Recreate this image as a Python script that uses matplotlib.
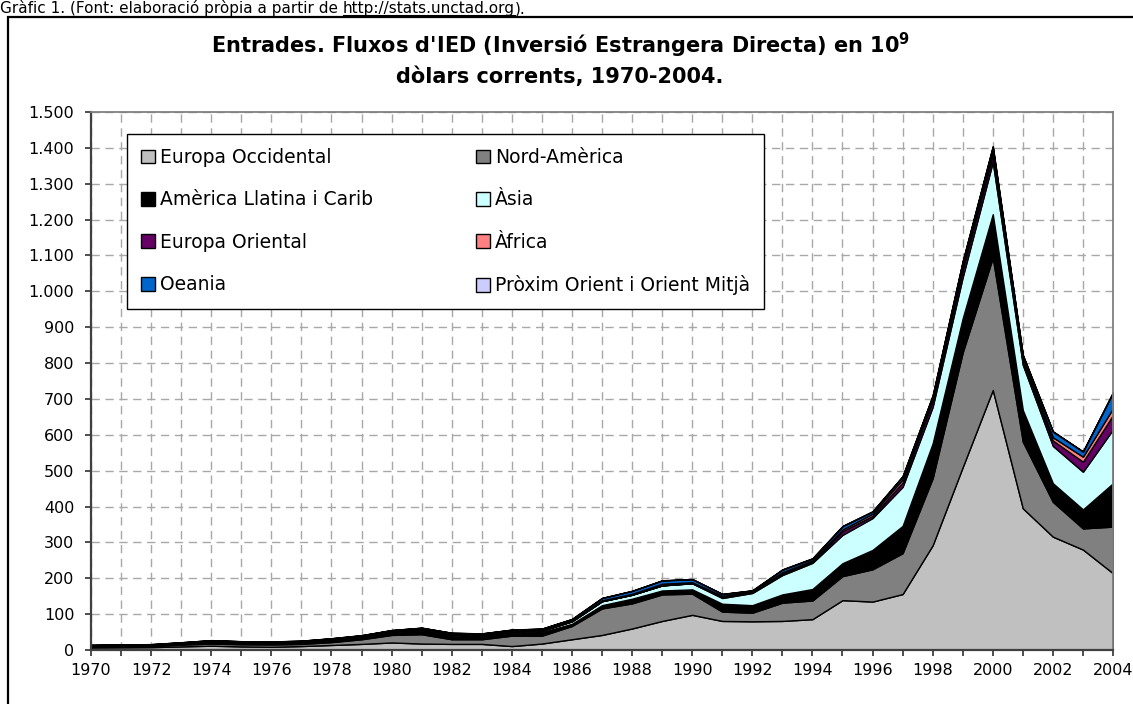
import matplotlib
matplotlib.use("Agg")
import matplotlib.pyplot as plt
from matplotlib.patches import Patch, Rectangle
from matplotlib.lines import Line2D
from matplotlib.ticker import MultipleLocator, FuncFormatter

plt.rcParams['font.family'] = ['DejaVu Sans']

years = list(range(1970, 2005))

# FDI inflows, 10^9 current dollars
europa_occ = [7, 7.5, 8, 10, 12, 10, 9, 11, 14, 17,
              21, 18, 17, 17, 11, 18, 30, 42, 60, 81,
              98, 81, 80, 81, 86, 139, 135, 156, 292, 510,
              725, 395, 316, 280, 214]
nord_america = [3, 3.5, 3.5, 5, 6, 6, 6.5, 6, 8, 13,
                21, 26, 13, 13, 29, 22, 37, 74, 70, 74,
                59, 26, 24, 51, 52, 67, 90, 114, 187, 320,
                369, 186, 97, 59, 130]
america_llatina = [2, 2, 2, 3, 5, 4, 4, 4, 5, 5,
                   8, 10, 10, 9, 8, 10, 6, 9, 13, 11,
                   12, 22, 21, 23, 32, 36, 54, 76, 97, 95,
                   121, 88, 52, 53, 121]
asia = [0.8, 0.8, 1, 1.5, 2, 2, 2, 2.5, 3, 3,
        3, 4, 4, 3, 4, 4, 7, 11, 11, 14,
        17, 16, 34, 54, 73, 79, 89, 109, 102, 115,
        146, 126, 104, 105, 150]
europa_oriental = [0, 0, 0, 0, 0, 0, 0, 0, 0, 0,
                   0, 0, 0, 0, 0, 0, 0, 0, 0, 0.3,
                   0.5, 2.5, 2, 4, 3, 10, 6, 12, 18, 22,
                   20, 8, 15, 28, 40]
africa = [0.6, 0.7, 0.8, 0.9, 1.1, 1.2, 1.0, 1.2, 1.3, 1.5,
          0.4, 1.5, 1.8, 1.5, 1.8, 2.4, 1.8, 2.4, 2.7, 4.5,
          2.5, 3.5, 2, 4, 4, 5, 6, 9, 7, 11,
          9, 12, 9, 14, 19]
oceania = [0.8, 0.9, 0.9, 1.0, 1.2, 1.1, 1.0, 1.1, 1.3, 1.6,
           2.0, 2.5, 2.0, 2.5, 2.8, 3.0, 4.5, 6.5, 8.0, 9.0,
           8.5, 5.0, 3.0, 7.0, 5.0, 9.0, 6.0, 8.0, 6.0, 10.0,
           13.0, 7.0, 16.0, 14.0, 44.0]
proxim_orient = [0.2, 0.2, 0.2, 0.3, 0.3, 0.3, 0.3, 0.3, 0.3, 0.3,
                 0.3, 0.4, 0.4, 0.4, 0.4, 0.4, 0.4, 0.5, 0.5, 0.6,
                 0.6, 0.6, 0.6, 1, 1, 1, 1, 1, 1, 2,
                 2, 1, 1, 1, 1]

series = [europa_occ, nord_america, america_llatina, asia,
          europa_oriental, africa, oceania, proxim_orient]
labels = ["Europa Occidental", "Nord-Amèrica", "Amèrica Llatina i Carib", "Àsia",
          "Europa Oriental", "Àfrica", "Oeania", "Pròxim Orient i Orient Mitjà"]
colors = ["#c0c0c0", "#808080", "#000000", "#ccffff",
          "#660066", "#ff8080", "#0066cc", "#ccccff"]

W, H = 1133, 704
fig = plt.figure(figsize=(W / 100, H / 100), dpi=100)
ax = fig.add_axes([91 / W, 1 - 650 / H, (1113 - 91) / W, (650 - 112) / H])

ax.stackplot(years, *series, colors=colors, edgecolor="black", linewidth=1.0, zorder=3)

ax.set_xlim(1970, 2004)
ax.set_ylim(0, 1500)
ax.xaxis.set_major_locator(MultipleLocator(1))
ax.xaxis.set_major_formatter(FuncFormatter(lambda v, p: "%d" % v if int(round(v)) % 2 == 0 else ""))
ax.yaxis.set_major_locator(MultipleLocator(100))
ax.yaxis.set_major_formatter(FuncFormatter(lambda v, p: "{:,.0f}".format(v).replace(",", ".")))
ax.tick_params(axis="both", direction="out", length=4.5, width=1.3, color="#404040",
               labelsize=11.5, labelcolor="black")
ax.tick_params(axis="x", pad=5)
ax.tick_params(axis="y", pad=7.5)

ax.grid(True, color="#a8a8a8", linestyle=(0, (6, 4)), linewidth=1.0, zorder=0)
ax.set_axisbelow(True)
for side in ["left", "bottom"]:
    ax.spines[side].set_color("#404040")
    ax.spines[side].set_linewidth(1.6)
for side in ["top", "right"]:
    ax.spines[side].set_color("#808080")
    ax.spines[side].set_linewidth(1.3)
for s in ax.spines.values():
    s.set_zorder(5)

# legend, filled row by row like the original
order = [0, 2, 4, 6, 1, 3, 5, 7]
handles = [Patch(facecolor=colors[i], edgecolor="black", linewidth=1.0) for i in order]
leg = ax.legend(handles, [labels[i] for i in order], ncol=2,
                loc="upper left", bbox_to_anchor=(127 / W, 1 - 141 / H, (764 - 127) / W, 0.01),
                bbox_transform=fig.transFigure, mode="expand", borderaxespad=0,
                fontsize=13.5, handlelength=0.75, handleheight=0.75, handletextpad=0.25,
                labelspacing=1.25, borderpad=0.75, fancybox=False, framealpha=1,
                edgecolor="black")
leg.get_frame().set_linewidth(1.0)
leg.set_zorder(6)

# title
fig.text(560 / W, 1 - 45 / H, "Entrades. Fluxos d'IED (Inversió Estrangera Directa) en 10$^{\\mathbf{9}}$",
         ha="center", va="center", fontsize=15, fontweight="bold")
fig.text(560 / W, 1 - 77 / H, "dòlars corrents, 1970-2004.",
         ha="center", va="center", fontsize=15, fontweight="bold")

# outer frame and caption above it
fig.add_artist(Rectangle((8 / W, -0.01), 1.0, 1 - 17 / H + 0.01, transform=fig.transFigure,
                         fill=False, edgecolor="black", linewidth=1.6))
cap1 = fig.text(0.0, 1 - 13 / H, "Gràfic 1. (Font: elaboració pròpia a partir de ",
                ha="left", va="baseline", fontsize=11)
renderer = fig.canvas.get_renderer()
x_url = cap1.get_window_extent(renderer).x1 / W
url = fig.text(x_url, 1 - 13 / H, "http://stats.unctad.org", ha="left", va="baseline", fontsize=11)
bb = url.get_window_extent(renderer)
fig.text(bb.x1 / W, 1 - 13 / H, ").", ha="left", va="baseline", fontsize=11)
fig.add_artist(Line2D([bb.x0 / W, bb.x1 / W], [1 - 15 / H, 1 - 15 / H], color="black",
                      linewidth=0.8, transform=fig.transFigure))

fig.savefig("out.png", dpi=100)
